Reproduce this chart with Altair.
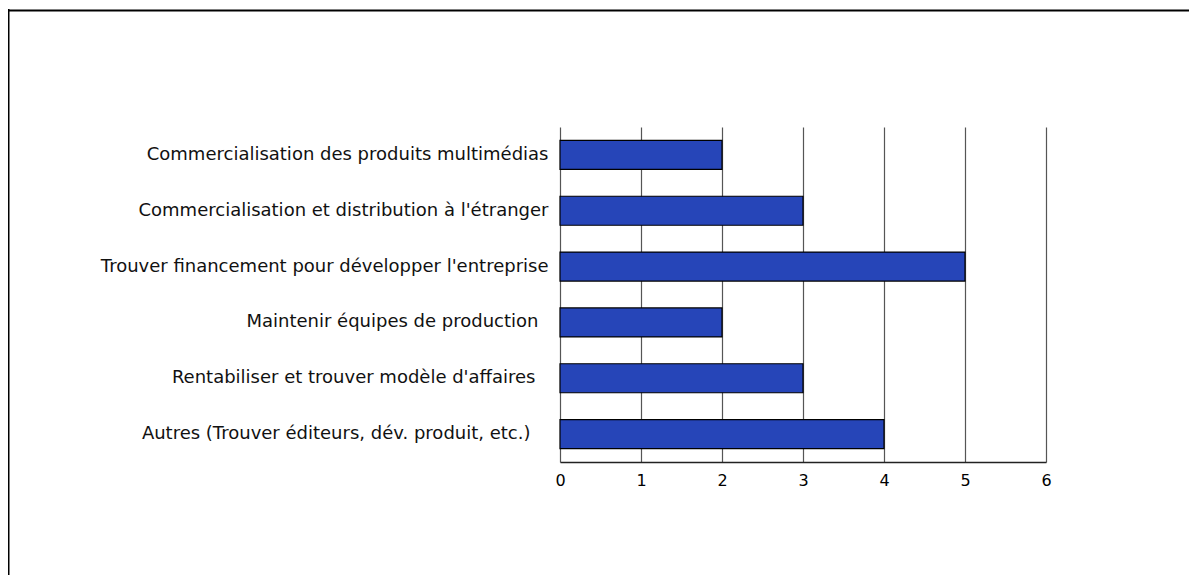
import altair as alt
import pandas as pd

categories = [
    "Commercialisation des produits multimédias",
    "Commercialisation et distribution à l'étranger",
    "Trouver financement pour développer l'entreprise",
    "Maintenir équipes de production",
    "Rentabiliser et trouver modèle d'affaires",
    "Autres (Trouver éditeurs, dév. produit, etc.)",
]
values = [2, 3, 5, 2, 3, 4]
x_ticks = [0, 1, 2, 3, 4, 5, 6]

df = pd.DataFrame({"cat": categories, "val": values})
one = pd.DataFrame({"k": [0]})

W, H = 486, 335
PAD_L, PAD_T = 552, 119
TOTAL_W, TOTAL_H = 1181, 567

label_pad = {
    "condition": [
        {"test": "indexof(datum.value, 'Maintenir') == 0", "value": 22},
        {"test": "indexof(datum.value, 'Rentabiliser') == 0", "value": 25},
        {"test": "indexof(datum.value, 'Autres') == 0", "value": 30},
    ],
    "value": 12,
}

bars = alt.Chart(df).mark_bar(
    color="#2645B8", stroke="#000000", strokeWidth=1.2
).encode(
    x=alt.X("val:Q",
            scale=alt.Scale(domain=[0, 6], nice=False),
            axis=alt.Axis(values=x_ticks, title=None, ticks=False, grid=True,
                          gridColor="#555555", gridWidth=1.2, gridOpacity=1,
                          domain=True, domainColor="#222222", domainWidth=1.4,
                          labelFont="DejaVu Sans", labelFontSize=16,
                          labelFlush=False,
                          labelColor="#000000", labelPadding=10, format="d")),
    y=alt.Y("cat:N", sort=categories,
            scale=alt.Scale(paddingInner=0.48, paddingOuter=0.24),
            axis=alt.Axis(title=None, ticks=False, domain=False, grid=False,
                          labelFont="DejaVu Sans", labelFontSize=18,
                          labelColor="#111111", labelPadding=label_pad,
                          labelLimit=0)),
)

left_border = alt.Chart(one).mark_rule(color="#000000", strokeWidth=2).encode(
    x=alt.value(-551.5), y=alt.value(-118), y2=alt.value(TOTAL_H - PAD_T)
)
top_border = alt.Chart(one).mark_rule(color="#000000", strokeWidth=2).encode(
    x=alt.value(-552), x2=alt.value(TOTAL_W - PAD_L), y=alt.value(-116.5)
)

chart = alt.layer(bars, left_border, top_border).properties(
    width=W, height=H,
    autosize=alt.AutoSizeParams(type="none"),
    padding={"left": PAD_L, "top": PAD_T,
             "right": TOTAL_W - PAD_L - W, "bottom": TOTAL_H - PAD_T - H},
    background="#ffffff",
).configure_view(stroke=None)

chart.save("out.html", embed_options={"renderer": "svg", "actions": False})
